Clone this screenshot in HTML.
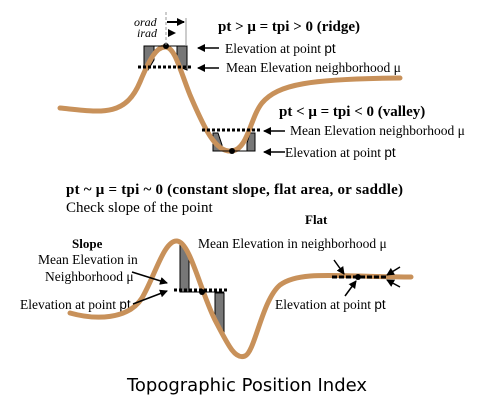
<!DOCTYPE html>
<html><head><meta charset="utf-8"><style>
html,body{margin:0;padding:0;background:#fff;}
svg{display:block;}
text{font-family:"Liberation Serif",serif;fill:#000;}
</style></head><body>
<svg width="503" height="415" viewBox="0 0 503 415">
<defs>
<marker id="ah" markerWidth="8" markerHeight="8" refX="7" refY="4" orient="auto" markerUnits="userSpaceOnUse"><path d="M0,0 L8,4 L0,8 Z" fill="#000"/></marker>
</defs>
<g>
<polygon points="144,46 154,46 154,60 148,70 144,70" fill="#777" stroke="#000" stroke-width="1"/>
<polygon points="177,46 187,46 187,70 182,68 177,58" fill="#777" stroke="#000" stroke-width="1"/>
<polygon points="213,133 218,133 222,145 222,151 213,151" fill="#777" stroke="#000" stroke-width="1"/>
<polygon points="247,151 247,143 250,133 255,133 255,151" fill="#777" stroke="#000" stroke-width="1"/>
</g>
<path d="M60,108 C100,112 125,118 140,82 C150,58 157,46 166,47 C175,48 180,70 190,95 C205,130 216,153 232,151 C248,149 250,118 262,103 C278,84 310,79 400,78" fill="none" stroke="#C8915A" stroke-width="5" stroke-linecap="round"/>
<line x1="144" y1="46" x2="187" y2="46" stroke="#000" stroke-width="1"/>
<line x1="138" y1="67" x2="193" y2="67" stroke="#000" stroke-width="3" stroke-dasharray="3,2"/>
<line x1="213" y1="151" x2="255" y2="151" stroke="#000" stroke-width="1"/>
<line x1="202" y1="130" x2="262" y2="130" stroke="#000" stroke-width="3" stroke-dasharray="3,2"/>
<circle cx="166" cy="46" r="3" fill="#000"/>
<circle cx="232" cy="151" r="3" fill="#000"/>
<line x1="166" y1="12" x2="166" y2="46" stroke="#999" stroke-width="1" stroke-dasharray="3,2"/>
<line x1="186" y1="18" x2="186" y2="46" stroke="#999" stroke-width="1"/>
<line x1="167" y1="22" x2="184" y2="22" stroke="#000" stroke-width="2" marker-end="url(#ah)"/>
<polygon points="168,29 176,33 168,37" fill="#000"/>
<text x="134" y="26" font-size="12" font-style="italic">orad</text>
<text x="137" y="37" font-size="12" font-style="italic">irad</text>
<text x="218" y="31" font-size="15" font-weight="bold">pt &gt; μ = tpi &gt; 0 (ridge)</text>
<line x1="219" y1="48" x2="198" y2="48" stroke="#000" stroke-width="1.5" marker-end="url(#ah)"/>
<text x="225" y="53" font-size="13.5">Elevation at point <tspan font-family="Liberation Sans">pt</tspan></text>
<line x1="219" y1="68" x2="198" y2="68" stroke="#000" stroke-width="1.5" marker-end="url(#ah)"/>
<text x="226" y="72" font-size="13.5">Mean Elevation neighborhood μ</text>
<text x="279" y="116" font-size="15" font-weight="bold">pt &lt; μ = tpi  &lt; 0 (valley)</text>
<line x1="285" y1="131" x2="264" y2="131" stroke="#000" stroke-width="1.5" marker-end="url(#ah)"/>
<text x="290" y="135" font-size="13.5">Mean Elevation neighborhood μ</text>
<line x1="285" y1="152" x2="264" y2="152" stroke="#000" stroke-width="1.5" marker-end="url(#ah)"/>
<text x="285" y="157" font-size="13.5">Elevation at point <tspan font-family="Liberation Sans">pt</tspan></text>

<text x="66" y="194" font-size="15" font-weight="bold" textLength="337">pt ~ μ = tpi ~ 0 (constant slope, flat area, or saddle)</text>
<text x="66" y="212" font-size="15">Check slope of the point</text>
<text x="305" y="224" font-size="13" font-weight="bold">Flat</text>
<text x="72" y="248" font-size="13" font-weight="bold">Slope</text>
<text x="38" y="264" font-size="13.5">Mean Elevation in</text>
<text x="45" y="281" font-size="13.5">Neighborhood μ</text>
<text x="20" y="309" font-size="13.5">Elevation at point <tspan font-family="Liberation Sans">pt</tspan></text>
<text x="198" y="248" font-size="13.5">Mean Elevation in neighborhood  μ</text>
<text x="275" y="309" font-size="13.5">Elevation at point <tspan font-family="Liberation Sans">pt</tspan></text>

<polygon points="180,243 183,243 189,253 189,292 180,292" fill="#777" stroke="#000" stroke-width="1"/>
<polygon points="215,293 224,293 224,337 215,318" fill="#777" stroke="#000" stroke-width="1"/>
<path d="M70,313 C95,320 128,320 142,298 C155,276 164,240 177,241 C190,242 200,290 215,320 C228,345 235,360 245,356 C255,352 262,300 280,285 C300,270 340,277 411,277" fill="none" stroke="#C8915A" stroke-width="5" stroke-linecap="round"/>
<line x1="180" y1="292" x2="224" y2="292" stroke="#000" stroke-width="1"/>
<line x1="174" y1="290" x2="229" y2="290" stroke="#000" stroke-width="3" stroke-dasharray="3,2"/>
<circle cx="202" cy="292" r="3" fill="#000"/>
<line x1="332" y1="277" x2="386" y2="277" stroke="#000" stroke-width="3" stroke-dasharray="5,2"/>
<circle cx="358" cy="277" r="3" fill="#000"/>
<line x1="132" y1="272" x2="167" y2="283" stroke="#000" stroke-width="1.5" marker-end="url(#ah)"/>
<line x1="133" y1="304" x2="167" y2="291" stroke="#000" stroke-width="1.5" marker-end="url(#ah)"/>
<line x1="334" y1="260" x2="344" y2="274" stroke="#000" stroke-width="1.5" marker-end="url(#ah)"/>
<line x1="345" y1="296" x2="356" y2="281" stroke="#000" stroke-width="1.5" marker-end="url(#ah)"/>
<line x1="400" y1="267" x2="387" y2="275" stroke="#000" stroke-width="1.5" marker-end="url(#ah)"/>
<line x1="400" y1="287" x2="387" y2="280" stroke="#000" stroke-width="1.5" marker-end="url(#ah)"/>

<text x="247" y="391" font-size="18" text-anchor="middle" style="font-family:'DejaVu Sans','Liberation Sans',sans-serif">Topographic Position Index</text>
</svg>
</body></html>
